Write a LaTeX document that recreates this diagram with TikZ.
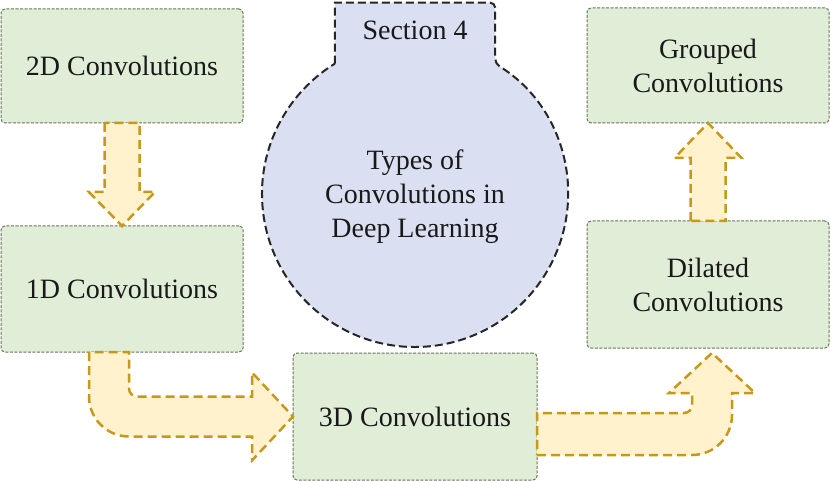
\documentclass[tikz,border=0pt]{standalone}
\usepackage{fontspec}
\setmainfont{Liberation Serif}
\usetikzlibrary{positioning, calc}

\definecolor{boxfill}{RGB}{225,238,215}
\definecolor{boxline}{RGB}{105,115,85}
\definecolor{hubfill}{RGB}{218,224,242}
\definecolor{arrowfill}{RGB}{255,242,204}
\definecolor{arrowline}{RGB}{198,152,28}
\definecolor{textcol}{RGB}{25,25,25}

\begin{document}
\begin{tikzpicture}
    [x=1pt, y=1pt,
    convbox/.style={rectangle, rounded corners=4pt, fill=boxfill, draw=boxline, line width=1pt, dash pattern=on 3pt off 1.5pt, minimum width=242pt, align=center, text=textcol, outer sep=0pt, font=\fontsize{28}{34}\selectfont},
    flowarrow/.style={fill=arrowfill, draw=arrowline, line width=2.5pt, dash pattern=on 9pt off 5pt},
    hubline/.style={fill=hubfill, draw=black!85, line width=2pt, dash pattern=on 8pt off 4pt},
    hubtext/.style={align=center, text=textcol, font=\fontsize{28}{34}\selectfont},]

    \useasboundingbox (0,0) rectangle (830,-481);

    %Nodes
    \node[convbox, minimum height=114pt](conv2d) at (122,-66) {2D Convolutions};
    \node[convbox, minimum height=126pt](conv1d)[below=103pt of conv2d]{1D Convolutions};
    \node[convbox, minimum width=244pt, minimum height=127pt](conv3d)[below right=1pt and 50pt of conv1d.south east]{3D Convolutions};
    \node[convbox, minimum height=115pt](grouped) at (708,-65.5) {Grouped\\Convolutions};
    \node[convbox, minimum height=127pt](dilated)[below=98pt of grouped]{Dilated\\Convolutions};

    %Centre circle with tab
    \coordinate (hubc) at (415,-194);
    \draw[hubline] ($(hubc)+(121.6:153)$) -- ++(0,61) [rounded corners=5pt] -- ($(hubc)+(58.4:153)+(0,61)$) -- ($(hubc)+(58.4:153)$) [sharp corners] arc[start angle=58.4, end angle=-238.4, radius=153pt] -- cycle;
    \node[hubtext](tab) at (415,-30) {Section 4};
    \node[hubtext](hub) at ($(hubc)+(0,-3)$) {Types of\\Convolutions in\\Deep Learning};

    %Arrows
    \draw[flowarrow] ($(conv2d.south)+(-17.5,0)$) -- ++(0,-69) -- ++(-15.5,0) -- (conv1d.north) -- ++(33,34) -- ++(-15.5,0) -- ++(0,69) -- cycle;
    \draw[flowarrow] ($(conv1d.south)+(-33,0)$) -- ++(0,-44.5) arc[start angle=180, end angle=270, radius=40pt] -- ++(123,0) -- ++(0,-24) -- (conv3d.west) -- ++(-41,44) -- ++(0,-24) -- ++(-115,0) arc[start angle=270, end angle=180, radius=8pt] -- ++(0,36.5) -- cycle;
    \draw[flowarrow] ($(conv3d.east)+(0,-38.5)$) -- ++(155,0) arc[start angle=270, end angle=360, radius=40pt] -- ++(0,22) -- ++(23,0) -- ++(-43,40) -- ++(-43,-40) -- ++(23,0) -- ++(0,-12) arc[start angle=0, end angle=-90, radius=8pt] -- ++(-147,0) -- cycle;
    \draw[flowarrow] ($(dilated.north)+(-17.5,0)$) -- ++(0,63) -- ++(-16,0) -- (grouped.south) -- ++(33.5,-35) -- ++(-16,0) -- ++(0,-63) -- cycle;
\end{tikzpicture}
\end{document}
